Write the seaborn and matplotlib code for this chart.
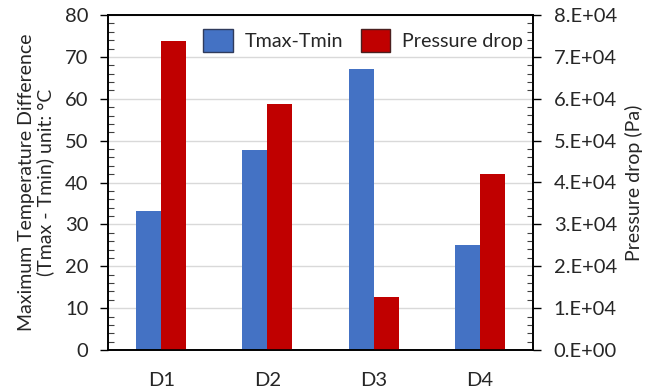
import matplotlib
matplotlib.use("Agg")
import matplotlib.pyplot as plt
import seaborn as sns
import pandas as pd
import numpy as np
from matplotlib.patches import Patch
from matplotlib.ticker import MultipleLocator, FuncFormatter

categories = ["D1", "D2", "D3", "D4"]
tmax_tmin = [33.3, 47.8, 67.1, 25.0]
pressure_drop = [73700, 58700, 12600, 42000]
series_names = ["Tmax-Tmin", "Pressure drop"]
colors = ["#4472C4", "#C00000"]

sns.set_theme(style="white")
plt.rcParams['font.family'] = ['Lato', 'DejaVu Sans']

fig = plt.figure(figsize=(6.58, 3.91), dpi=100)
ax = fig.add_axes([108/658, 1-350/391, 425/658, 335/391])
ax2 = ax.twinx()

df1 = pd.DataFrame({"cat": categories * 2,
                    "series": [series_names[0]] * 4 + [series_names[1]] * 4,
                    "val": list(tmax_tmin) + [np.nan] * 4})
df2 = pd.DataFrame({"cat": categories * 2,
                    "series": [series_names[0]] * 4 + [series_names[1]] * 4,
                    "val": [np.nan] * 4 + list(pressure_drop)})

sns.barplot(data=df1, x="cat", y="val", hue="series", hue_order=series_names,
            order=categories, palette=colors, width=0.47, ax=ax, legend=False,
            saturation=1, edgecolor="none", errorbar=None)
sns.barplot(data=df2, x="cat", y="val", hue="series", hue_order=series_names,
            order=categories, palette=colors, width=0.47, ax=ax2, legend=False,
            saturation=1, edgecolor="none", errorbar=None)

ax.set_xlim(-0.5, 3.5)
ax.set_ylim(0, 80)
ax2.set_ylim(0, 80000)
ax.yaxis.set_major_locator(MultipleLocator(10))
ax.yaxis.set_minor_locator(MultipleLocator(2))
ax2.yaxis.set_major_locator(MultipleLocator(10000))
ax2.yaxis.set_minor_locator(MultipleLocator(2000))

def fmt(v, pos):
    if v == 0:
        return "0.E+00"
    return f"{v/1e4:.0f}.E+04"
ax2.yaxis.set_major_formatter(FuncFormatter(fmt))

ax.grid(axis="y", color="#D9D9D9", linewidth=1)
ax.set_axisbelow(True)
for a in (ax, ax2):
    for s in a.spines.values():
        s.set_color("black")
        s.set_linewidth(1.2)

ax.tick_params(axis="y", which="major", direction="out", length=6, width=1, color="black",
               labelsize=14.5, pad=8, left=True)
ax.tick_params(axis="y", which="minor", direction="in", length=4, width=0.8, color="#404040", left=True)
ax.tick_params(axis="x", length=0, labelsize=14.5, pad=16)
ax2.tick_params(axis="y", which="major", direction="out", length=6, width=1, color="black",
                labelsize=14.5, pad=9, right=True)
ax2.tick_params(axis="y", which="minor", direction="in", length=4, width=0.8, color="#404040", right=True)

ax.set_xlabel("")
ax.set_ylabel("Maximum Temperature Difference\n(Tmax - Tmin) unit: °C", fontsize=14,
              labelpad=8, linespacing=1.1)
ax2.set_ylabel("Pressure drop (Pa)", fontsize=14, labelpad=6)

handles = [Patch(facecolor=colors[0], edgecolor="#2F3B5C", linewidth=1),
           Patch(facecolor=colors[1], edgecolor="#4A2020", linewidth=1)]
ax2.legend(handles, series_names, loc="upper center", bbox_to_anchor=(0.6, 1.0),
           ncol=2, frameon=False, fontsize=14.2, handlelength=1.5, handleheight=1.4,
           columnspacing=0.9, handletextpad=0.6, borderaxespad=0.3)

fig.savefig("out.png", dpi=100)
